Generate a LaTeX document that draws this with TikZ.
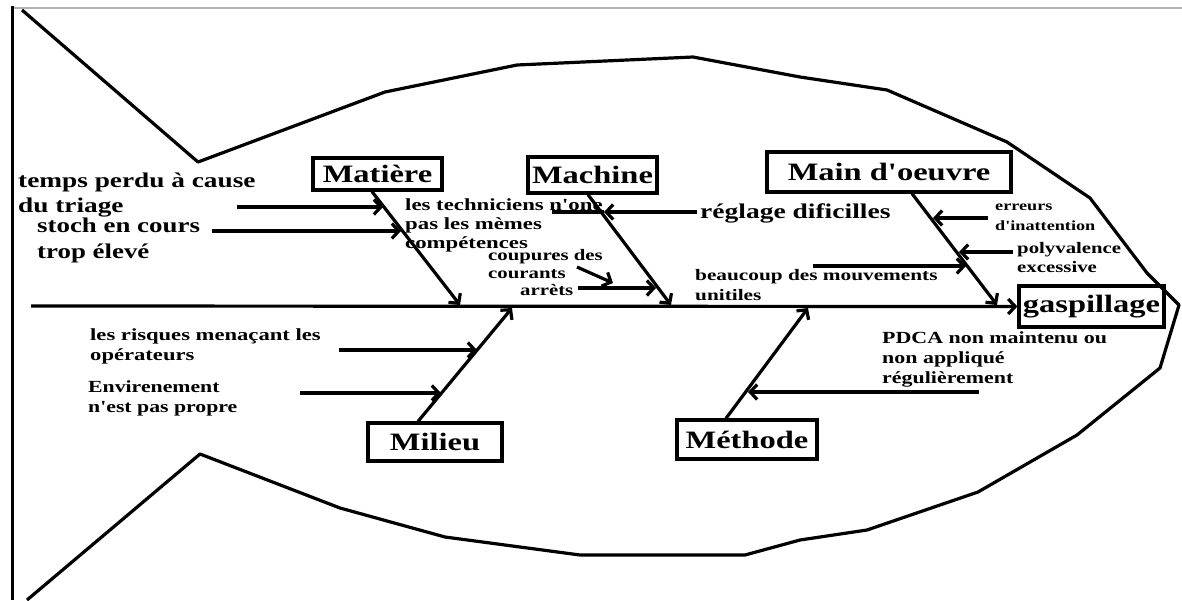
\documentclass[tikz,border=0pt]{standalone}
\usepackage{fontspec}
\setmainfont{Liberation Serif}[Ligatures=TeXOff]
\usetikzlibrary{arrows.meta,calc}
\newcommand{\ctext}[4]{\scalebox{#2}[1]{\fontsize{#1}{#3}\selectfont\begin{tabular}[t]{@{}l@{}}#4\end{tabular}}}
\newcommand{\lbl}[1]{\scalebox{1.3}[1]{\fontsize{25}{30}\selectfont #1}}
\begin{document}
\begin{tikzpicture}[x=1pt,y=-1pt,
  box/.style={draw,line width=3.2pt,inner sep=0pt,font=\bfseries},
  cause/.style={anchor=base west,inner sep=0pt,font=\bfseries},
  bone/.style={line width=3.2pt,-{Straight Barb[length=7pt,width=15pt]}},
  arr/.style={line width=3.2pt,-{Straight Barb[length=7pt,width=15pt]}},
  plain/.style={line width=3.2pt},
  outline/.style={line width=3.2pt,line join=round}]
\useasboundingbox (0,0) rectangle (1182,600);
\fill[white] (0,0) rectangle (1182,600);

% frame lines
\draw[gray!60,line width=2.5pt] (12,8) -- (1182,8);
\draw[line width=3pt] (12,6) -- (12,600);

% category boxes
\node[box,minimum width=129pt,minimum height=32pt] (mat) at (377.5,174) {\lbl{Matière}};
\node[box,minimum width=129pt,minimum height=36pt] (mac) at (592.5,175) {\lbl{Machine}};
\node[box,minimum width=244pt,minimum height=40pt] (mo) at (889,172) {\lbl{Main d'oeuvre}};
\node[box,minimum width=145pt,minimum height=41pt] (gas) at (1091.5,306.5) {\lbl{gaspillage}};
\node[box,minimum width=134pt,minimum height=38pt] (mil) at (435,442) {\lbl{Milieu}};
\node[box,minimum width=140pt,minimum height=39pt] (met) at (747,439.5) {\lbl{Méthode}};

% cause texts
\node[cause] (tA) at (18,187) {\ctext{21}{1.3}{25}{temps perdu à cause\\du triage}};
\node[cause] (tB) at (37,232) {\ctext{21}{1.28}{26}{stoch en cours\\trop élevé}};
\node[cause] (tC) at (405,210) {\ctext{17}{1.34}{19}{les techniciens n'one\\pas les mèmes\\compétences}};
\node[cause] (tD) at (700,218) {\ctext{21}{1.31}{25}{réglage dificilles}};
\node[cause] (tE) at (488,260) {\ctext{16}{1.3}{18}{coupures des\\courants}};
\node[cause] (tF) at (520,295) {\ctext{16}{1.3}{18}{arrèts}};
\node[cause] (tG) at (695,280) {\ctext{16}{1.33}{20}{beaucoup des mouvements\\unitiles}};
\node[cause] (tH) at (995,210) {\ctext{14}{1.3}{20}{erreurs\\d'inattention}};
\node[cause] (tI) at (1017,253) {\ctext{16}{1.3}{19}{polyvalence\\excessive}};
\node[cause] (tJ) at (90,340) {\ctext{17}{1.33}{20}{les risques menaçant les\\opérateurs}};
\node[cause] (tK) at (88,392) {\ctext{17}{1.28}{20}{Envirenement\\n'est pas propre}};
\node[cause] (tL) at (882,343) {\ctext{17}{1.29}{20}{PDCA non maintenu ou\\non appliqué\\régulièrement}};

% spine
\coordinate (sp) at (31,306);
\draw[bone] (sp) -- (gas.west);

% bones
\coordinate (matE) at (460,305);
\coordinate (macE) at (671,305);
\coordinate (moE) at (997,305);
\coordinate (milE) at (512,308);
\coordinate (metE) at (808,308);
\draw[bone] ($(mat.south)+(-5.5,0)$) -- (matE);
\draw[bone] ($(mac.south)+(-4.5,0)$) -- (macE);
\draw[bone] ($(mo.south)+(23,0)$) -- (moE);
\draw[bone] ($(mil.north)+(-17,0)$) -- (milE);
\draw[bone] ($(met.north)+(-21,0)$) -- (metE);

% sub-cause arrows
\coordinate (a1s) at (237,207);  \coordinate (a1t) at (383,207);
\coordinate (a2s) at (212,231);  \coordinate (a2t) at (401,231);
\coordinate (a3s) at (697,212);  \coordinate (a3t) at (604,212); \coordinate (a3e) at (552,212);
\coordinate (a4s) at (577,267);  \coordinate (a4t) at (613,283);
\coordinate (a5s) at (578,288);  \coordinate (a5t) at (656,288);
\coordinate (a6s) at (813,266);  \coordinate (a6t) at (966,266);
\coordinate (a7s) at (988,218);  \coordinate (a7t) at (933,218);
\coordinate (a8s) at (1013,252); \coordinate (a8t) at (959,252);
\coordinate (a9s) at (339,350);  \coordinate (a9t) at (477,350);
\coordinate (a10s) at (300,393); \coordinate (a10t) at (441,393);
\coordinate (a11s) at (979,392); \coordinate (a11t) at (748,392);
\draw[arr] (a1s) -- (a1t);
\draw[arr] (a2s) -- (a2t);
\draw[arr] (a3s) -- (a3t);
\draw[plain] (a3t) -- (a3e);
\draw[arr] (a4s) -- (a4t);
\draw[arr] (a5s) -- (a5t);
\draw[arr] (a6s) -- (a6t);
\draw[arr] (a7s) -- (a7t);
\draw[arr] (a8s) -- (a8t);
\draw[arr] (a9s) -- (a9t);
\draw[arr] (a10s) -- (a10t);
\draw[arr] (a11s) -- (a11t);

% fish outline
\draw[outline] (22,10) -- (198,162) -- (385,92) -- (517,65) -- (693,57) -- (800,77)
  -- (887,90) -- (1007,142) -- (1090,198) -- (1147,273) -- (1179,305)
  -- (1160,368) -- (1077,435) -- (978,492) -- (867,530) -- (800,540)
  -- (745,555) -- (580,555) -- (445,537) -- (340,508) -- (200,454) -- (27,600);
\end{tikzpicture}
\end{document}
